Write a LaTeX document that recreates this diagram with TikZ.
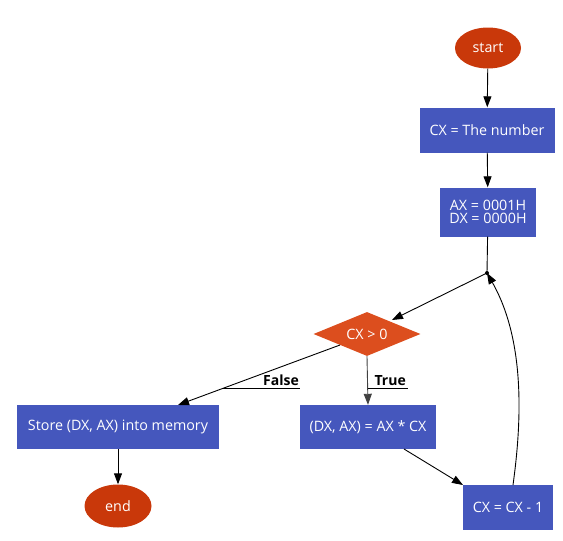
\documentclass[tikz,border=0pt]{standalone}
\usepackage{fontspec}
\setmainfont{Open Sans}
\usetikzlibrary{shapes.geometric,arrows.meta}
\definecolor{boxblue}{HTML}{4557BD}
\definecolor{termred}{HTML}{C9380A}
\definecolor{diaorange}{HTML}{DC4E1E}
\tikzset{
  procbox/.style={rectangle, fill=boxblue, text=white, inner sep=0pt, font=\fontsize{14.3}{16}\selectfont, align=center},
  term/.style={ellipse, fill=termred, text=white, inner sep=0pt, font=\fontsize{14.3}{16}\selectfont},
  decide/.style={diamond, fill=diaorange, text=white, inner sep=0pt, font=\fontsize{14.3}{16}\selectfont},
  flow/.style={draw=black, line width=0.9pt, -{Triangle[length=11pt,width=8pt]}},
  plainflow/.style={draw=black, line width=0.9pt},
  lbl/.style={font=\fontsize{14}{16}\selectfont\bfseries, text=black, inner sep=1pt, anchor=south east},
}
\begin{document}
\begin{tikzpicture}[x=1pt,y=-1pt]
\useasboundingbox (0,0) rectangle (563,541);
\node[term, minimum width=66pt, minimum height=41pt] (start) at (488,48) {start};
\node[procbox, minimum width=135pt, minimum height=45pt] (num) at (487,130) {CX = The number};
\node[procbox, minimum width=96pt, minimum height=49pt] (init) at (488,212) {AX = 0001H\\[-3pt]DX = 0000H};
\coordinate (j) at (487,273);
\fill (j) circle (2pt);
\node[decide, minimum width=107pt, minimum height=44pt, aspect=2.4] (cmp) at (367,334) {CX > 0};
\node[procbox, minimum width=202pt, minimum height=44pt] (store) at (118,427) {Store (DX, AX) into memory};
\node[procbox, minimum width=136pt, minimum height=44pt] (mul) at (368,427) {(DX, AX) = AX * CX};
\node[term, minimum width=67pt, minimum height=43pt] (end) at (118,506) {end};
\node[procbox, minimum width=90pt, minimum height=45pt] (dec) at (508,507) {CX = CX - 1};

\draw[flow] (start) -- (num);
\draw[flow] (num) -- (init);
\draw[plainflow] (init) -- (j);
\draw[flow] (j) -- (392,320);
\draw[flow] (340,345) -- (178,405);
\draw[flow, draw=black!75] (cmp.south) -- (mul.north);
\draw[flow] (404,449) -- (463,485);
\draw[flow] (store) -- (end);
\draw[flow] (513,485) .. controls (522,420) and (525,340) .. (j);

\node[lbl] (flbl) at (300,387) {False};
\draw[line width=0.8pt] (222,388) -- (300,388);
\node[lbl] (tlbl) at (407,387) {True};
\draw[line width=0.8pt] (368,388) -- (408,388);
\end{tikzpicture}
\end{document}
